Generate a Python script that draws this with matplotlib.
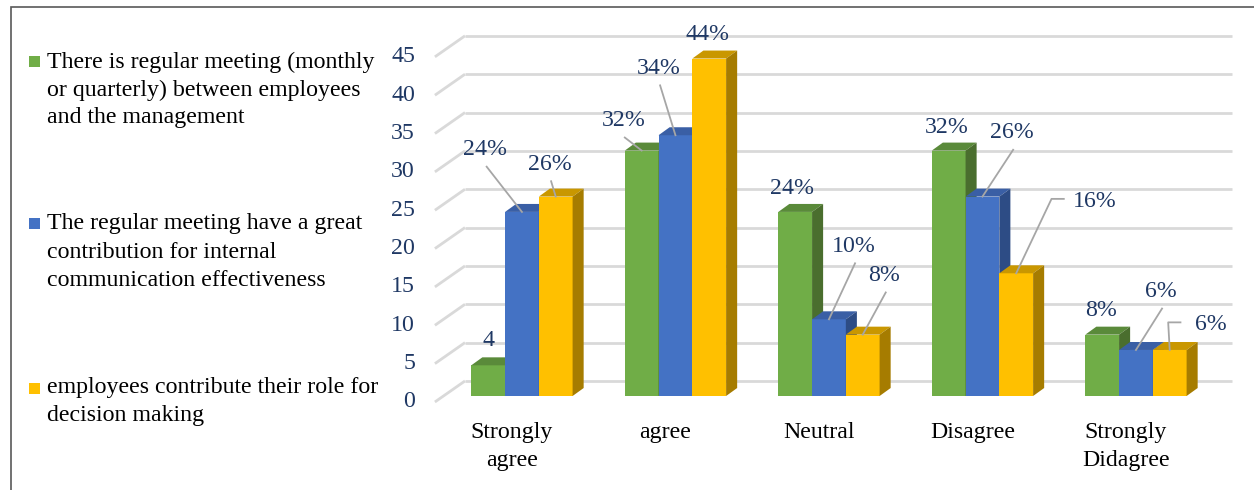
import matplotlib
matplotlib.use("Agg")
import matplotlib.pyplot as plt
from matplotlib.patches import Rectangle

# data
categories = ['Strongly\nagree', 'agree', 'Neutral', 'Disagree', 'Strongly\nDidagree']
series_names = ['There is regular meeting (monthly\nor quarterly) between employees\nand the management',
                'The regular meeting have a great\ncontribution for internal\ncommunication effectiveness',
                'employees contribute their role for\ndecision making']
meeting = [4, 32, 24, 32, 8]
contribution = [24, 34, 10, 26, 6]
decision = [26, 44, 8, 16, 6]
labels_meeting = ['4', '32%', '24%', '32%', '8%']
labels_contribution = ['24%', '34%', '10%', '26%', '6%']
labels_decision = ['26%', '44%', '8%', '16%', '6%']
yticks = [0, 5, 10, 15, 20, 25, 30, 35, 40, 45]

# styling
front_cols = ['#70AD47', '#4472C4', '#FFC000']
top_cols = ['#5A8A3A', '#3A5FA5', '#C99700']
side_cols = ['#4A6E2E', '#2D4C85', '#A67C00']
navy = '#1F3864'
grid_col = '#D9D9D9'
font = 'Liberation Serif'
fs = 17.2

bw = 0.22          # bar width in category units
ddx, ddy = 0.072, 1.04   # bar depth
wall_dx0, wall_dx1 = -0.371, 4.625
wall_dy = 1.96
front_dy = -0.78
tick_x0 = -0.567

# label offsets (dx, dy) from bar front-top centre, and leader style
label_offsets = [
    [(0, 3.2, None), (-0.12, 3.9, 'line'), (-0.02, 3.1, None), (-0.01, 3.0, None), (-0.01, 3.1, None)],
    [(-0.24, 8.1, 'line'), (-0.11, 8.7, 'line'), (0.16, 9.5, 'line'), (0.19, 8.3, 'line'), (0.16, 7.6, 'line')],
    [(-0.04, 4.2, 'line'), (-0.01, 3.1, None), (0.14, 7.7, 'line'), (0.51, 9.4, 'elbow'), (0.27, 3.3, 'elbow')],
]

W, H = 1254, 490
fig = plt.figure(figsize=(W / 100, H / 100), dpi=100)
ax = fig.add_axes([430 / W, 1 - 420 / H, 820 / W, 390 / H])
ax.set_xlim(-0.599, 4.743)
ax.set_ylim(-3.13, 47.72)
ax.axis('off')

# frame around the chart
fig.patches.append(Rectangle((11 / W, -0.1), 1.2, 1 - 7 / H + 0.1, transform=fig.transFigure,
                             fill=False, edgecolor='#595959', linewidth=1.2))

# gridlines: diagonal + back wall
for v in yticks:
    ax.plot([tick_x0, wall_dx0], [v + front_dy, v + wall_dy], color=grid_col, lw=2, zorder=1,
            solid_capstyle='butt')
    ax.plot([wall_dx0, wall_dx1], [v + wall_dy, v + wall_dy], color=grid_col, lw=2, zorder=1,
            solid_capstyle='butt')
    ax.text(-0.697, v + front_dy, str(v), ha='right', va='center', color=navy,
            fontsize=fs, family=font)

series = [meeting, contribution, decision]
series_labels = [labels_meeting, labels_contribution, labels_decision]

for i in range(len(categories)):
    for k, vals in enumerate(series):
        x = i + (k - 1) * bw
        v = vals[i]
        z = 10 + k * 3 + i * 10
        ax.bar(x, v, width=bw, color=front_cols[k], zorder=z, linewidth=0)
        xl, xr = x - bw / 2, x + bw / 2
        ax.fill([xl, xr, xr + ddx, xl + ddx], [v, v, v + ddy, v + ddy],
                color=top_cols[k], zorder=z + 1, linewidth=0)
        ax.fill([xr, xr + ddx, xr + ddx, xr], [0, ddy, v + ddy, v],
                color=side_cols[k], zorder=z + 1, linewidth=0)

        dx, dy, style = label_offsets[k][i]
        lx, ly = x + dx, v + dy
        ax.text(lx, ly, series_labels[k][i], ha='center', va='center', color=navy,
                fontsize=fs, family=font, zorder=200)
        if style == 'elbow':
            ex = lx - 0.2
            ax.plot([ex, ex - 0.08, x], [ly + 0.3, ly + 0.3, v], color='#A6A6A6', lw=1.3, zorder=150)
        elif style == 'line':
            ax.plot([lx + 0.01, x], [ly - 2.2, v], color='#A6A6A6', lw=1.3, zorder=150)

# category labels
for i, cat in enumerate(categories):
    for j, line in enumerate(cat.split('\n')):
        ax.text(i - 0.065, -4.7 - 3.65 * j, line, ha='center', va='center', color='black',
                fontsize=fs, family=font, clip_on=False)

# legend on the left
legend_y = [62, 224, 388]
for k, name in enumerate(series_names):
    y0 = legend_y[k]
    fig.patches.append(Rectangle((29 / W, 1 - (y0 + 5.5) / H), 11 / W, 11 / H,
                                 transform=fig.transFigure, color=front_cols[k], linewidth=0))
    for j, line in enumerate(name.split('\n')):
        fig.text(47 / W, 1 - (y0 + 28 * j) / H, line, ha='left', va='center', color='black',
                 fontsize=fs, family=font)

fig.savefig('out.png', dpi=100)
